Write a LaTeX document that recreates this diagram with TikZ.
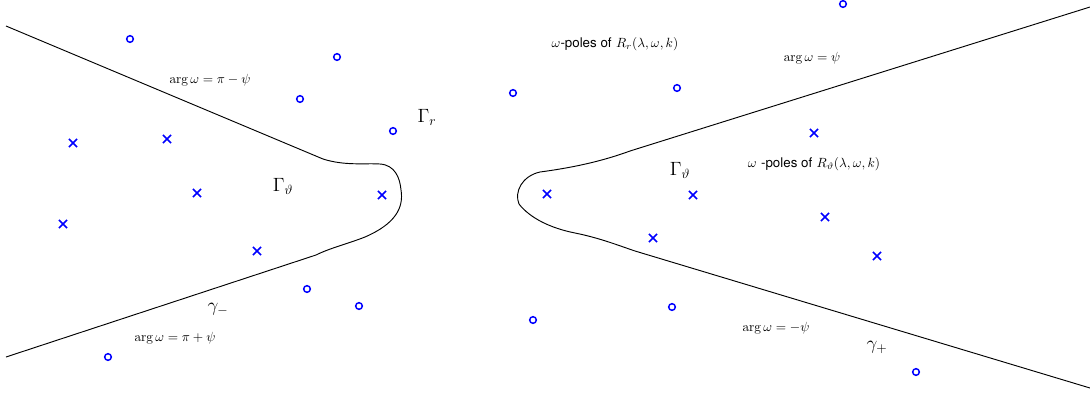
\documentclass[tikz,border=0pt]{standalone}
\usepackage{amsmath,amssymb,fontspec}
\setsansfont{TeX Gyre Heros}
\usetikzlibrary{shapes.misc}
\tikzset{pz/.style={draw=blue,circle,line width=1.1pt,inner sep=0pt,minimum size=5pt},
px/.style={draw=blue,cross out,line width=1.1pt,inner sep=0pt,minimum size=5pt},
cnt/.style={line width=0.7pt},lbl/.style={inner sep=1pt},big/.style={lbl,font=\Large}}

\begin{document}
\begin{tikzpicture}[x=0.75pt,y=-0.75pt]
\useasboundingbox(0,0)rectangle(1090,394);
% contours
\draw[cnt](6,26)--(323,159)..controls(345,166)and(365,163)..(380,164)
..controls(395,165)and(400,178)..(401,190)..controls(404,208)and(395,224)..(365,237)
..controls(350,243)and(330,248)..(316,255)--(6,357);
\draw[cnt](1090,7)--(630,151)..controls(600,162)and(570,168)..(540,172)
..controls(522,176)and(514,192)..(519,204)..controls(530,218)and(550,228)..(575,233)
..controls(600,238)and(620,246)..(635,251)--(1090,388);
% poles
\foreach\x/\y[count=\i]in{130/39,337/57,300/99,393/131,513/93,677/88,843/4,307/289,359/306,108/357,533/320,672/307,916/372}
\node[pz](r\i)at(\x,\y){};
\foreach\x/\y[count=\i]in{73/143,167/139,197/193,257/251,63/224,382/195,547/194,693/195,653/238,814/133,825/217,877/256}
\node[px](t\i)at(\x,\y){};
% labels
\node[lbl](a1)at(210,80){$\arg\omega=\pi-\psi$};
\node[lbl](a2)at(175,338){$\arg\omega=\pi+\psi$};
\node[lbl](a3)at(812,58){$\arg\omega=\psi$};
\node[lbl](a4)at(776,328){$\arg\omega=-\psi$};
\node[big](g1)at(427,117){$\Gamma_r$};
\node[big](g2)at(283,186){$\Gamma_\vartheta$};
\node[big](g3)at(680,170){$\Gamma_\vartheta$};
\node[big](c1)at(218,309){$\gamma_-$};
\node[big](c2)at(877,347){$\gamma_+$};
\node[lbl](n1)at(615,44){$\omega$\textsf{-poles of} $R_r(\lambda,\omega,k)$};
\node[lbl](n2)at(814,164){$\omega$ \textsf{-poles of} $R_\vartheta(\lambda,\omega,k)$};
\end{tikzpicture}
\end{document}
